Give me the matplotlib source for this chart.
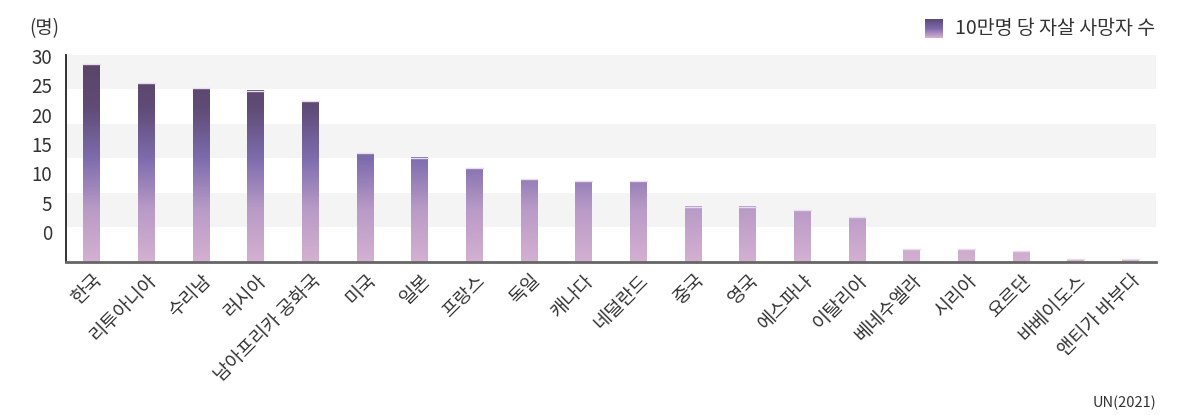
import numpy as np
import matplotlib
matplotlib.use("Agg")
import matplotlib.pyplot as plt
from matplotlib.colors import LinearSegmentedColormap

plt.rcParams['font.family'] = ['Noto Sans CJK KR', 'DejaVu Sans']

# data
countries = ['한국', '리투아니아', '수리남', '러시아', '남아프리카 공화국', '미국', '일본',
             '프랑스', '독일', '캐나다', '네덜란드', '중국', '영국', '에스파냐', '이탈리아',
             '베네수엘라', '시리아', '요르단', '바베이도스', '앤티가 바부다']
rates = [28.6, 25.9, 25.2, 24.8, 23.3, 15.8, 15.1, 13.6, 12.0, 11.7, 11.7,
         8.0, 8.0, 7.5, 6.5, 1.8, 1.8, 1.5, 0.4, 0.4]
tick_vals = [0, 5, 10, 15, 20, 25, 30]
legend_label = '10만명 당 자살 사망자 수'

cmap = LinearSegmentedColormap.from_list('grad', [
    (0.0, '#d4b0d1'), (0.25, '#b99bc7'), (0.5, '#7d6cad'),
    (0.75, '#5f4b76'), (1.0, '#594465')])

fig = plt.figure(figsize=(11.87, 4.15), dpi=100)
ax = fig.add_axes([0.0556, 0.3694, 0.9183, 0.4986])

# alternating bands
for i in range(6):
    if i % 2 == 1:
        ax.axhspan(i * 5, i * 5 + 5, color='#f4f4f4', zorder=0, lw=0)

w = 0.3
x = np.arange(len(countries))
for xi, v in zip(x, rates):
    grad = np.linspace(0, v, 200)[:, None]
    ax.imshow(grad, extent=[xi - w / 2, xi + w / 2, 0, v], origin='lower',
              cmap=cmap, vmin=0, vmax=30, aspect='auto', zorder=2,
              interpolation='bilinear')
    ax.plot([xi - w / 2, xi + w / 2], [v, v], color='#e6dcec', lw=1, zorder=3)

ax.set_xlim(-0.47, len(countries) - 0.53)
ax.set_ylim(0, 30)

# tick labels sit a bit off the bands, as in the original
ax.set_yticks([4.3 + t * 0.85 for t in tick_vals])
ax.set_yticklabels([str(t) for t in tick_vals])
ax.tick_params(axis='y', length=0, pad=10, labelsize=13.5, labelcolor='#333333')
ax.set_xticks(x)
ax.set_xticklabels(countries, rotation=45, ha='right', rotation_mode='anchor')
ax.tick_params(axis='x', length=0, pad=6, labelsize=13.5, labelcolor='#333333')

for s in ['top', 'right']:
    ax.spines[s].set_visible(False)
ax.spines['left'].set_color('#222222')
ax.spines['left'].set_linewidth(1.3)
ax.spines['bottom'].set_color('#666666')
ax.spines['bottom'].set_linewidth(2)
ax.spines['bottom'].set_zorder(4)

fig.text(0.025, 0.932, '(명)', fontsize=13.5, color='#333333', va='center')

# legend swatch
lax = fig.add_axes([925 / 1187, 1 - 38 / 415, 18 / 1187, 19 / 415])
lax.imshow(np.linspace(0, 1, 50)[:, None], cmap=LinearSegmentedColormap.from_list(
    'lg', ['#5c4a78', '#7e6aac', '#d4b0d1']), aspect='auto')
lax.axis('off')
fig.text(955 / 1187, 1 - 28 / 415, legend_label, fontsize=14, color='#333333', va='center')

fig.text(0.974, 1 - 403 / 415, 'UN(2021)', fontsize=10.5, color='#333333', ha='right', va='center')

fig.savefig('out.png', dpi=100)
